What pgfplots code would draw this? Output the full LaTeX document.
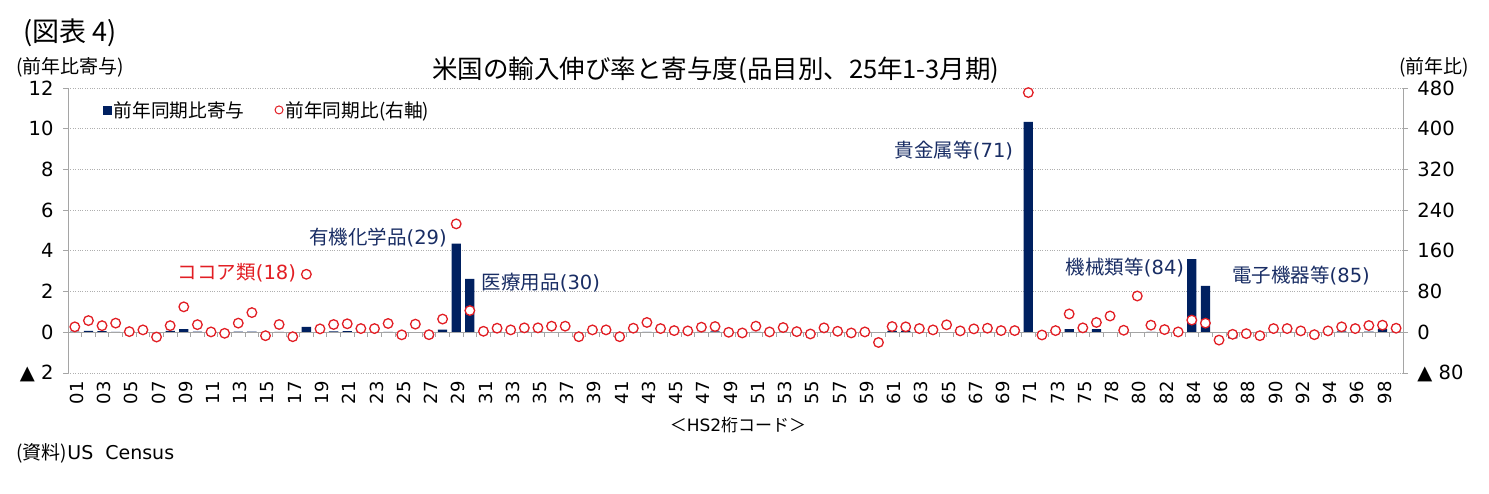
\documentclass[border=0pt]{standalone}
\usepackage{fontspec}
\setmainfont{DejaVu Sans}
\newfontfamily\jp{Noto Sans CJK JP}
\usepackage{pgfplots}
\pgfplotsset{compat=1.18}
\usepackage{pgfplotstable}
\definecolor{navy}{RGB}{0,32,96}
\definecolor{navytxt}{RGB}{25,45,100}
\definecolor{cred}{RGB}{226,30,36}
\definecolor{gridc}{RGB}{175,175,175}
\definecolor{axc}{RGB}{165,165,165}

\pgfplotstableread{
idx code bar pct
0 01 0.03 10.7
1 02 0.07 23
2 03 0.06 13
3 04 0.02 18
4 05 0.01 1.3
5 06 0.01 4.7
6 07 -0.04 -9.3
7 08 0.07 13
8 09 0.15 50
9 10 0.03 15
10 11 0.00 0.7
11 12 0.00 -2
12 13 0.03 18
13 14 0.03 38.7
14 15 -0.02 -6.7
15 16 0.02 15.3
16 17 -0.02 -8.7
17 18 0.26 114
18 19 0.02 6.7
19 20 0.05 15.3
20 21 0.06 16.7
21 22 0.02 7.3
22 23 0.02 7.3
23 24 0.02 17.3
24 25 -0.01 -5
25 26 0.01 16
26 27 -0.25 -4.7
27 28 0.13 26
28 29 4.35 213
29 30 2.62 42.7
30 31 0.00 2
31 32 0.03 8
32 33 0.02 4.7
33 34 0.03 8.7
34 35 0.03 8.7
35 36 0.01 12
36 37 0.01 12
37 38 -0.03 -8.7
38 39 0.03 4.7
39 40 0.02 4.7
40 41 -0.01 -8.7
41 42 0.02 8
42 43 0.02 19.3
43 44 0.03 7.3
44 45 0.00 3.3
45 46 0.00 2.7
46 47 0.02 10
47 48 0.04 11.3
48 49 0.00 0
49 50 0.00 -1.3
50 51 0.02 12
51 52 0.00 0.7
52 53 0.01 9.3
53 54 0.00 1.3
54 55 -0.01 -3.3
55 56 0.01 8.7
56 57 0.00 2
57 58 0.00 -1.3
58 59 0.00 0.7
59 60 -0.01 -20
60 61 0.07 11.3
61 62 0.07 10.7
62 63 0.02 7.3
63 64 0.01 4.7
64 65 0.01 14.7
65 66 0.00 2.7
66 67 0.01 6.7
67 68 0.01 8
68 69 0.01 3.3
69 70 0.00 3.3
70 71 10.33 471
71 72 -0.01 -5.3
72 73 0.01 3.3
73 74 0.15 36
74 75 0.02 8.7
75 76 0.15 19.3
76 78 0.01 32
77 79 0.00 4
78 80 0.01 71.3
79 81 0.02 14
80 82 0.01 5.3
81 83 0.00 0.7
82 84 3.60 24
83 85 2.28 18
84 86 -0.02 -15.3
85 87 -0.30 -4
86 88 0.00 -2.7
87 89 -0.01 -6.7
88 90 0.03 7.3
89 91 0.03 7.3
90 92 0.01 2.7
91 93 -0.01 -4.7
92 94 0.01 2.7
93 95 0.05 10.7
94 96 0.02 7.3
95 97 0.03 13.3
96 98 0.15 14
97 99 0.03 8
}\data

\begin{document}
\begin{tikzpicture}
\path[use as bounding box] (-68pt,-120pt) rectangle (1421pt,373pt);
\begin{axis}[
 at={(0,0)}, anchor=south west,
 scale only axis, width=1335pt, height=285pt,
 xmin=-0.5, xmax=97.5, ymin=-2, ymax=12,
 axis x line*=bottom, axis y line*=left,
 x axis line style={draw=none},
 y axis line style={axc, line width=0.8pt},
 xtick={0,2,...,96},
 xticklabels={01,03,05,07,09,11,13,15,17,19,21,23,25,27,29,31,33,35,37,39,41,43,45,47,49,51,53,55,57,59,61,63,65,67,69,71,73,75,78,80,82,84,86,88,90,92,94,96,98},
 x tick style={draw=none},
 xticklabel style={rotate=90, anchor=east, font=\fontsize{18}{18}\selectfont, yshift=-2pt},
 ytick={-2,0,...,12},
 yticklabels={▲ 2,0,2,4,6,8,10,12},
 y tick style={axc, line width=0.8pt},
 tick align=outside, major tick length=5pt,
 yticklabel style={font=\fontsize{19.5}{20}\selectfont, xshift=-6pt},
 ymajorgrids, grid style={gridc, dotted, line width=0.8pt},
 ybar, bar width=9.3pt,
 /pgf/number format/assume math mode=true,
 clip=false,
]
\addplot[fill=navy, draw=none] table[x=idx, y=bar]{\data};
\draw[axc, line width=0.9pt] (axis cs:-0.5,0) -- (axis cs:97.5,0);
\end{axis}
\foreach \k in {0,...,98} \draw[axc, line width=0.8pt] (\k*13.6224pt,40.714pt) -- ++(0,-5pt);
\begin{axis}[
 at={(0,0)}, anchor=south west,
 scale only axis, width=1335pt, height=285pt,
 xmin=-0.5, xmax=97.5, ymin=-80, ymax=480,
 axis x line=none, axis y line*=right,
 y axis line style={axc, line width=0.8pt},
 ytick={-80,0,...,480},
 yticklabels={▲ 80,0,80,160,240,320,400,480},
 y tick style={axc, line width=0.8pt},
 tick align=outside, major tick length=5pt,
 yticklabel style={font=\fontsize{19.5}{20}\selectfont, xshift=6pt},
 /pgf/number format/assume math mode=true,
 clip=false,
 legend style={at={(0.024,0.923)}, anchor=west, draw=none, fill=none, legend columns=2,
   font=\jp\fontsize{18.7}{19}\selectfont,
   /tikz/every even column/.append style={column sep=28pt}},
]
\addlegendimage{legend image code/.code={\fill[navy] (0pt,-4pt) rectangle (8pt,4pt);}}
\addlegendentry{前年同期比寄与}
\addplot[only marks, mark=*, mark size=4.8pt, mark options={draw=cred, fill=white, line width=1.3pt},
  legend image code/.code={\draw[cred, fill=white, line width=1pt] (4pt,0) circle (4pt);}]
  table[x=idx, y=pct]{\data};
\addlegendentry{前年同期比(右軸)}
\end{axis}
\node[anchor=west, font=\jp\fontsize{27}{27}\selectfont] at (-48pt,340pt) {(図表 4)};
\node[font=\jp\fontsize{25.5}{25.5}\selectfont] at (648pt,303pt) {米国の輸入伸び率と寄与度(品目別、25年1-3月期)};
\node[anchor=west, font=\jp\fontsize{19}{19}\selectfont] at (-55pt,306pt) {(前年比寄与)};
\node[font=\jp\fontsize{19}{19}\selectfont] at (1366pt,306pt) {(前年比)};
\node[font=\fontsize{17}{17}\selectfont] at (670pt,-52pt) {{\jp ＜}HS2{\jp 桁コード＞}};
\node[anchor=west, font=\fontsize{19}{19}\selectfont] at (-55pt,-80pt) {{\jp (資料)}US\hspace{12pt}Census};
\begin{scope}[font=\fontsize{19.5}{19.5}\selectfont]
\node[text=cred] at (169pt,100pt) {{\jp ココア類}(18)};
\node[text=navytxt] at (310pt,135pt) {{\jp 有機化学品}(29)};
\node[text=navytxt] at (473pt,90pt) {{\jp 医療用品}(30)};
\node[text=navytxt] at (886pt,222pt) {{\jp 貴金属等}(71)};
\node[text=navytxt] at (1057pt,105pt) {{\jp 機械類等}(84)};
\node[text=navytxt] at (1233pt,97pt) {{\jp 電子機器等}(85)};
\end{scope}
\end{tikzpicture}
\end{document}
